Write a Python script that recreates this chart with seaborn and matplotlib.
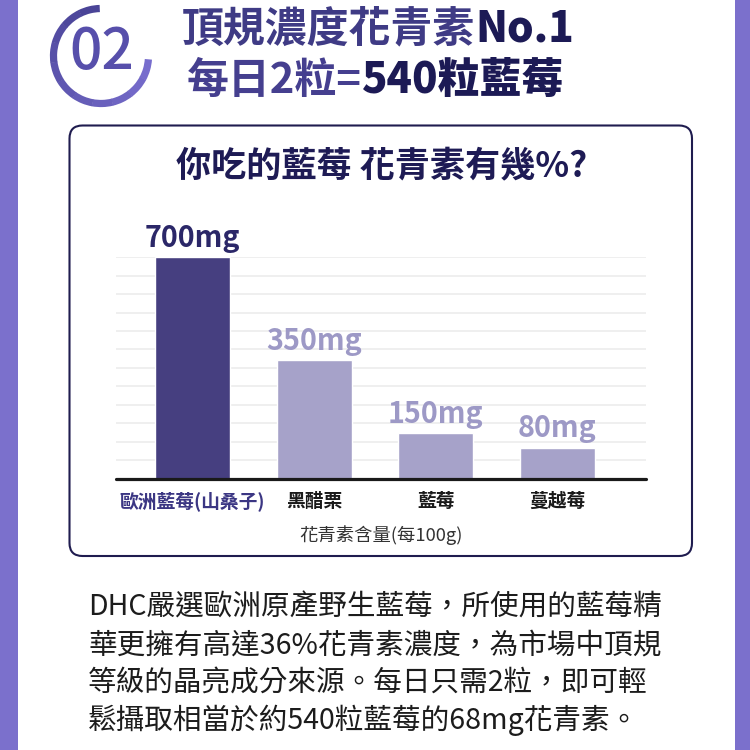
import numpy as np
import matplotlib
matplotlib.use("Agg")
import matplotlib.pyplot as plt
from matplotlib.patches import Arc, FancyBboxPatch, Rectangle
import seaborn as sns

categories = ["歐洲藍莓(山桑子)", "黑醋栗", "藍莓", "蔓越莓"]
value_labels = ["700mg", "350mg", "150mg", "80mg"]
# bar heights as drawn in the picture (mg scale, first bar = 700)
bar_heights = [700, 375, 143, 98]
bar_colors = ["#463f80", "#a6a2c9", "#a6a2c9", "#a6a2c9"]
label_colors = ["#2b2768", "#9d99c6", "#9d99c6", "#9d99c6"]
cat_colors = ["#3b3683", "#1a1a1a", "#1a1a1a", "#1a1a1a"]

chart_title = "你吃的藍莓 花青素有幾%?"
x_label = "花青素含量(每100g)"
header1 = [("頂規濃度花青素", "#3f3b85", 700), ("No.1", "#1c1a55", 900)]
header2 = [("每日2粒=", "#453f8f", 700), ("540粒藍莓", "#1c1a55", 900)]
paragraph = [
    "DHC嚴選歐洲原產野生藍莓，所使用的藍莓精",
    "華更擁有高達36%花青素濃度，為市場中頂規",
    "等級的晶亮成分來源。每日只需2粒，即可輕",
    "鬆攝取相當於約540粒藍莓的68mg花青素。",
]

sns.set_theme(style="white")
plt.rcParams["font.family"] = ["Noto Sans CJK TC", "DejaVu Sans"]
# TC only ships regular/bold here, the JP entry has the other weights
FULL = ["Noto Sans CJK JP", "DejaVu Sans"]
TC = ["Noto Sans CJK TC", "DejaVu Sans"]


def fam(w):
    return TC if w in (400, 700) else FULL


fig = plt.figure(figsize=(7.5, 7.5), dpi=100)
fig.patch.set_facecolor("white")

# overlay in image pixel coords for decoration
deco = fig.add_axes([0, 0, 1, 1], zorder=0)
deco.set_xlim(0, 750)
deco.set_ylim(750, 0)
deco.axis("off")

deco.add_patch(Rectangle((0, 0), 17.5, 750, color="#7b70cc", lw=0))
deco.add_patch(Rectangle((735, 0), 15, 750, color="#7b70cc", lw=0))
deco.add_patch(FancyBboxPatch((69.5, 125.5), 622.5, 430.5,
                              boxstyle="round,pad=0,rounding_size=13",
                              fc="white", ec="#1f1c4f", lw=1.5))

# logo ring with a soft gradient
ring = np.linspace(4, 268, 12)
ring_cols = sns.blend_palette(["#776dcd", "#4a4497"], len(ring) - 1)
for a0, a1, c in zip(ring[:-1], ring[1:], ring_cols):
    deco.add_patch(Arc((101, 56), 95, 95, theta1=a0, theta2=a1 + 0.5,
                       color=c, lw=5.2))
deco.text(102, 53, "02", fontsize=41, color="#574fab", weight=500,
          family=FULL, ha="center", va="center")

for (y, x0, parts) in [(29, 182, header1), (81, 187, header2)]:
    t = deco.text(x0, y, parts[0][0], color=parts[0][1], weight=parts[0][2],
                  family=fam(parts[0][2]), fontsize=30.2, ha="left", va="center")
    for txt, col, w in parts[1:]:
        t = deco.annotate(txt, xy=(1, 0), xycoords=t, color=col, weight=w,
                          family=fam(w), fontsize=30.2, ha="left", va="bottom")

deco.text(382, 166, chart_title, fontsize=25.3, weight="bold",
          color="#1e1b55", ha="center", va="center")
deco.text(381, 535, x_label, fontsize=13.2, color="#333333",
          ha="center", va="center")

for i, line in enumerate(paragraph):
    deco.text(88, 608 + i * 37.3, line, fontsize=20.6, color="#1c1c1c",
              ha="left", va="center")

ax = fig.add_axes([116 / 750, 1 - 478.5 / 750, 530 / 750, 221.2 / 750], zorder=1)
ax.patch.set_visible(False)
sns.barplot(x=categories, y=bar_heights, hue=categories, palette=bar_colors,
            saturation=1, width=0.617, legend=False, ax=ax)
ax.set_xlim(-0.63, 3.729)
ax.set_ylim(0, 700)
ax.set_yticks(np.linspace(0, 700, 13))
ax.yaxis.grid(True, color="#ececec", lw=1.2)
ax.set_axisbelow(True)
ax.tick_params(length=0, labelleft=False, labelbottom=False)
for s in ax.spines.values():
    s.set_visible(False)
ax.axhline(0, color="#1a1a1a", lw=2.3, clip_on=False)
ax.set_xlabel("")
ax.set_ylabel("")

for i, (h, lab) in enumerate(zip(bar_heights, value_labels)):
    ax.annotate(lab, xy=(i, h), xytext=(0, 7.4), textcoords="offset points",
                ha="center", va="baseline", fontsize=20.7, color=label_colors[i],
                weight="bold")
    ax.text(i, -0.102, categories[i], transform=ax.get_xaxis_transform(),
            ha="center", va="center", fontsize=13.5, weight="bold",
            color=cat_colors[i])

fig.savefig("out.png", dpi=100)
